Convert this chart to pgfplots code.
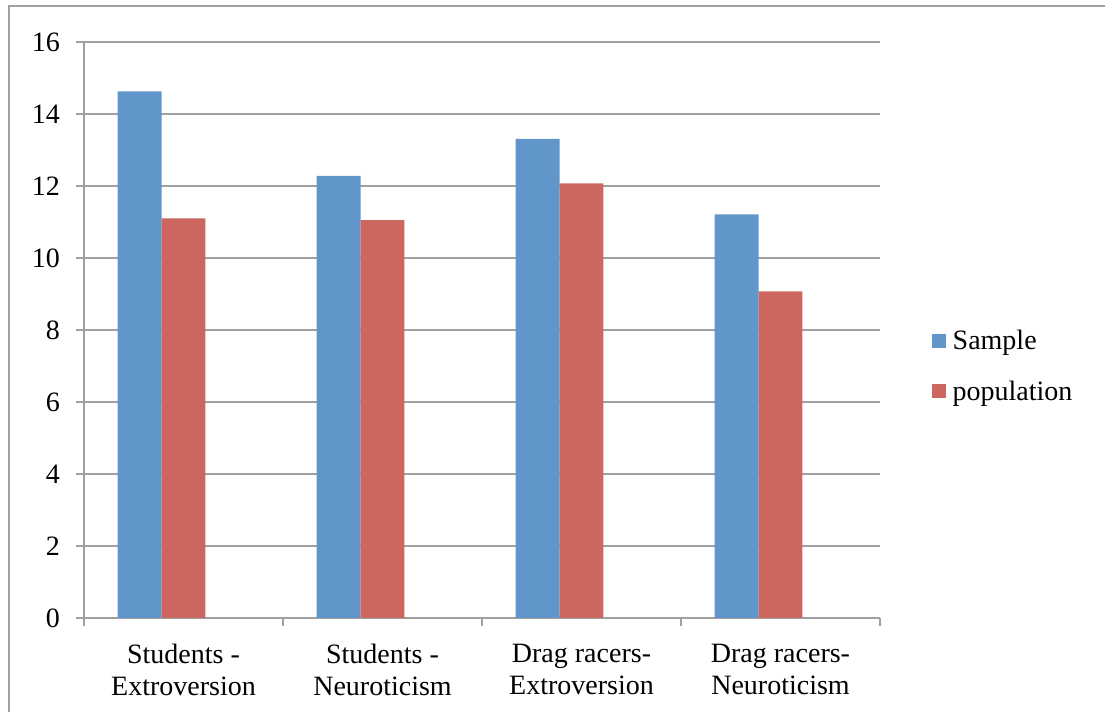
\documentclass[border=0pt]{standalone}
\usepackage{fontspec}
\setmainfont{Liberation Serif}
\usepackage{pgfplots}
\pgfplotsset{compat=1.18}
\definecolor{sblue}{RGB}{97,150,202}
\definecolor{sred}{RGB}{205,102,95}
\definecolor{gridg}{RGB}{160,160,160}
\begin{document}
\begin{tikzpicture}[x=0.75pt,y=0.75pt]
\useasboundingbox (0,0) rectangle (1105,712);
\draw[gridg, line width=1.5pt] (8.5,-5) -- (8.5,705.5) -- (1110,705.5);
\begin{axis}[
  at={(63pt,70.5pt)}, anchor=south west,
  scale only axis, width=597pt, height=432pt,
  xmin=-0.5, xmax=3.5, ymin=0, ymax=16,
  ytick={0,2,...,16},
  xtick={0,1,2,3},
  xticklabels={{Students -\\Extroversion},{Students -\\Neuroticism},{Drag racers-\\Extroversion},{Drag racers-\\Neuroticism}},
  minor xtick={-0.5,0.5,1.5,2.5,3.5},
  x tick style={draw=none},
  minor x tick style={draw=gridg, line width=1.5pt},
  minor tick length=6pt, major tick length=6pt,
  tick align=outside,
  axis x line*=bottom, axis y line*=left,
  axis line style={draw=gridg, line width=1.5pt, -},
  ytick style={draw=gridg, line width=1.5pt},
  ymajorgrids, grid style={draw=gridg, line width=1.5pt},
  /pgf/number format/assume math mode=true,
  ticklabel style={font=\fontsize{21}{24}\selectfont},
  yticklabel style={xshift=-8.5pt},
  xticklabel style={align=center, yshift=-10pt},
  legend style={at={(1.06,0.51)}, anchor=north west, draw=none, fill=none,
    font=\fontsize{21}{24}\selectfont, row sep=18pt,
    /tikz/every odd column/.style={column sep=3pt}},
  legend cell align=left,
  legend image code/.code={\fill[#1] (0pt,-5.25pt) rectangle (10.5pt,5.25pt);},
]
\addplot[ybar, fill=sblue, draw=none, bar width=0.221, bar shift=-0.221]
  coordinates {(0,14.63) (1,12.28) (2,13.31) (3,11.21)};
\addplot[ybar, fill=sred, draw=none, bar width=0.221, bar shift=0]
  coordinates {(0,11.1) (1,11.05) (2,12.07) (3,9.07)};
\legend{Sample, population}
\end{axis}
\end{tikzpicture}
\end{document}
